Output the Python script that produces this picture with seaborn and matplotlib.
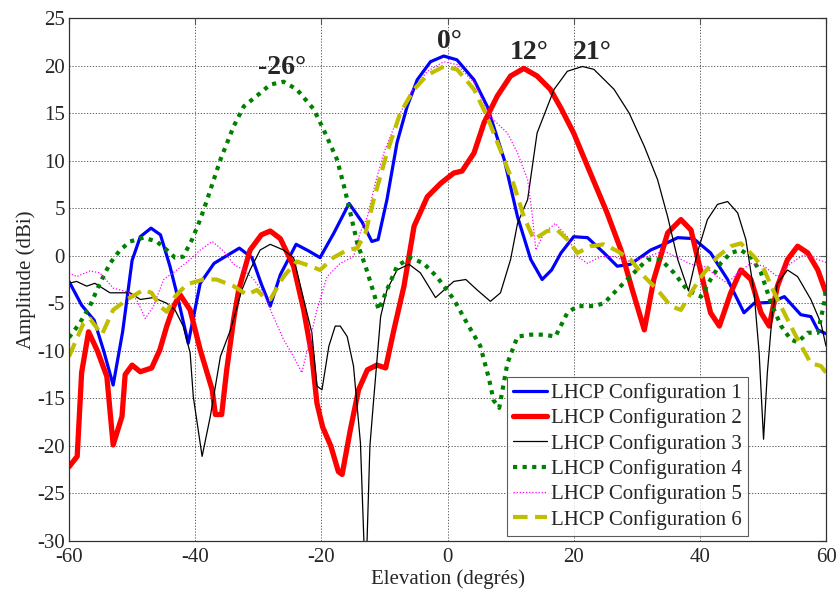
import numpy as np
import pandas as pd
import matplotlib
matplotlib.use('Agg')
import matplotlib.pyplot as plt
import seaborn as sns

# ============================================================
# Data
# ============================================================
x1 = [-60, -58, -56, -54.5, -53, -51.5, -50, -48.7, -47, -45.5, -44, -42.9, -41.1, -39.2, -37,
      -35.5, -33, -31, -29.5, -28.1, -26.5, -24, -22, -20.2, -18, -15.6, -13.5, -12, -11, -9.6,
      -8, -6.4, -4.8, -2.7, -0.6, 1.5, 4.2, 6.3, 9, 11.1, 13.2, 15, 16.5, 18, 20,
      22.2, 24.8, 26.9, 29, 32.2, 34.3, 36.5, 39, 41.7, 44.4, 47, 48.6, 51.3, 53.4, 56,
      57.6, 58.7, 60]
y1 = [-2.7, -5.2, -6.8, -10, -13.6, -8, -0.5, 2, 2.9, 2.2, -1.1, -4, -9.2, -2.9, -0.8,
      -0.2, 0.8, -0.2, -3, -5.3, -2, 1.2, 0.5, -0.2, 2.4, 5.5, 3.5, 1.5, 1.7, 5.9,
      11.9, 15.7, 18.5, 20.4, 21, 20.6, 18.5, 15.7, 10.1, 4.1, -0.4, -2.5, -1.5, 0.3, 2,
      1.9, 0.3, -1.1, -0.9, 0.6, 1.2, 1.9, 1.8, 0.3, -2.5, -6, -5, -4.9, -4.3, -6.2,
      -6.4, -7.8, -8.2]

x2 = [-60, -58.7, -58, -56.9, -55.5, -54, -53, -51.6, -51.1, -50, -48.7, -46.9, -45.6, -44.5, -43.4,
      -42.4, -40.8, -39.2, -37.3, -36.8, -35.8, -35, -33.9, -33.1, -31.3, -29.5, -28.1, -26.5, -24.4, -22.8,
      -21.5, -20.7, -19.8, -18.5, -17.3, -16.7, -15.4, -14.1, -12.7, -11.2, -9.8, -8.5, -6.9, -5.3, -3.2,
      -1.1, 1, 2.3, 4.2, 5.8, 7.9, 10, 12.1, 14.2, 16.3, 18, 20, 22.2, 25.3, 27.5,
      29.3, 31.2, 32.7, 34.9, 37, 38.6, 40.2, 41.7, 43.1, 44.9, 46.5, 48.1, 49.7, 51, 52.3,
      53.9, 55.5, 57.1, 58.7, 60]
y2 = [-22.2, -21.1, -12.3, -8, -10, -12.7, -19.9, -16.9, -12.5, -11.5, -12.2, -11.8, -9.9, -7.4, -5.3,
      -4.1, -5.7, -9.9, -14.1, -16.7, -16.7, -12, -6.7, -3.6, 0.6, 2.2, 2.6, 1.8, -1.1, -5.7,
      -10.5, -15.5, -18, -20, -22.7, -23, -18.3, -14.1, -12, -11.5, -11.8, -7.8, -3.2, 3.1, 6.2,
      7.6, 8.7, 8.9, 10.8, 14, 16.8, 18.9, 19.7, 18.9, 17.5, 15.5, 12.9, 9.4, 4.5, 0.6,
      -3.6, -7.8, -2.5, 2.4, 3.8, 2.7, -1.8, -6, -7.4, -3.9, -1.5, -2.5, -6, -7.4, -3.2,
      -0.4, 1, 0.3, -1.5, -3.9]

x3 = [-60, -58.8, -57.2, -55.9, -53.5, -50.3, -48.7, -46.6, -44.5, -43.2, -41.9, -40.8, -40.3, -38.9, -37.6,
      -36, -34.4, -32.6, -31.3, -29.7, -28.1, -26, -24.4, -22.8, -21.5, -20.7, -19.9, -18.8, -17.8, -17,
      -15.9, -14.9, -13.8, -13.2, -12.8, -12.3, -11.7, -10.6, -9.6, -8, -6.1, -4.3, -1.9, 1, 2.9,
      4.7, 6.8, 8.4, 10, 11.1, 12.7, 14.2, 16.9, 19, 21.4, 23.2, 26.4, 28.8, 31.2, 33.3,
      34.9, 36.5, 38.2, 39.6, 41.2, 42.8, 44.4, 46, 47.3, 48.6, 49.4, 50.1, 50.7, 51.5, 52.3,
      53.9, 55.5, 57.6, 59.2, 60]
y3 = [-2.9, -2.7, -3.2, -2.9, -3.9, -3.9, -4.6, -4.4, -5, -5.7, -7.4, -10.2, -14.8, -21.1, -16.9,
      -10.6, -7.8, -3.6, -1.5, 0.6, 1.2, 0.6, -0.2, -4.6, -8.1, -13.7, -14.1, -9.5, -7.4, -7.4,
      -8.5, -11.6, -19.7, -31, -31, -20, -15.1, -6.4, -3.6, -1.5, -0.9, -1.8, -4.4, -2.7, -2.5,
      -3.6, -4.8, -3.9, -0.4, 3.4, 5.9, 12.9, 17.5, 19.4, 19.9, 19.6, 17.5, 15, 11.5, 8,
      4.1, -0.4, -3.7, 0.3, 3.8, 5.4, 5.7, 4.5, 1.7, -3.9, -10.2, -19.3, -12.3, -6, -2.9,
      -1.5, -2.2, -4.6, -7.1, -9.5]

x4 = [-60, -58.3, -56.7, -55.1, -53.5, -51.9, -50.3, -48.2, -46.1, -44.5, -43.2, -41.9, -40.5, -39.2, -38.1,
      -36, -33.9, -32.3, -29.7, -28.1, -26, -23.9, -21.2, -19.6, -17.5, -16.4, -15.4, -14.3, -13, -11.7,
      -10.9, -9.6, -8, -5.9, -3.8, -1.7, -0.1, 1, 3.1, 5.2, 6.6, 7.3, 8.2, 9.5, 11.1,
      13.2, 15.3, 17.1, 19, 20.6, 23.2, 24.8, 26.4, 28.5, 30.6, 31.7, 33.8, 35.9, 38, 40.2,
      41.7, 43.3, 44.9, 46.5, 48.1, 49.7, 51.3, 52.9, 54.4, 55.5, 57.1, 58.7, 59.7, 60]
y4 = [-8.6, -7.1, -5.3, -2.9, -0.8, 0.6, 1.5, 1.9, 1.5, 0.6, -0.2, -0.1, 1.7, 3.8, 5.9,
      10.1, 13.6, 15.7, 17.1, 18, 18.3, 17.5, 15.4, 13.2, 10.1, 7.3, 4.5, 1.3, -1.1, -3.9,
      -5.7, -3.6, -1.1, -0.2, -0.8, -2.2, -3.6, -4.6, -7.1, -9.5, -13, -15.2, -16, -11.3, -8.5,
      -8.3, -8.3, -8.5, -6, -5.3, -5.3, -5, -3.9, -2.5, -1.1, -0.4, -0.4, -1.8, -3.6, -4.3,
      -2.5, -0.8, 0.3, 0.6, -0.1, -1.8, -5, -7.4, -8.8, -9.1, -8.1, -8.1, -5, -3.6]

x5 = [-60, -58.8, -56.7, -55.1, -53, -50.8, -49.3, -47.9, -46.6, -45, -42.9, -40.8, -39.2, -37.3, -35.5,
      -33.9, -32.3, -30.7, -29.2, -27.6, -26, -24.4, -23.1, -21.8, -20.7, -19.1, -17, -14.9, -13.8, -12.7,
      -11.5, -10.1, -8, -5.9, -3.2, -0.6, 1.5, 4.2, 6.8, 9.5, 11.1, 12.7, 13.4, 14, 15.3,
      17.1, 19, 20.6, 22.2, 24.3, 26.4, 28.5, 31.7, 34.3, 36.5, 38.6, 40.7, 42.8, 44.4, 46,
      48.1, 50.2, 52.3, 54.4, 56.5, 58.7, 60]
y5 = [-1.8, -2.2, -1.6, -1.8, -3.4, -3.8, -4.6, -6.6, -5.3, -2.5, -1.5, -0.4, 0.6, 1.5, 0.5,
      -0.9, -1.5, -2.5, -3.9, -6.4, -8.8, -10.6, -12.3, -8.8, -5.7, -2.2, -0.8, -0.1, 2.5, 4.1,
      7.5, 10.8, 14.3, 17.1, 19.4, 20.4, 20.1, 18.2, 14.6, 12.9, 10.8, 8, 4.5, 0.6, 2.4,
      3.4, 2, -0.1, -0.8, -0.1, -0.1, -0.6, -0.1, 0.5, -0.2, -0.9, -1.1, -2.2, -2.9, -1.8,
      -0.8, -1.1, -2.2, -0.8, 0.1, -0.4, -0.7]

x6 = [-60, -57.7, -56.7, -54.8, -53, -50.8, -48.2, -46.9, -45.6, -44.5, -43.2, -41.3, -38.7, -36.6, -33.9,
      -31.8, -30.2, -29.2, -28.1, -26, -23.9, -21.7, -20.2, -18.1, -15.9, -14.3, -13, -11.7, -9.6, -7.5,
      -5.3, -3.2, -0.6, 1.5, 4.2, 6.3, 8.4, 10.6, 12.1, 13.7, 15.8, 17.4, 19, 20.6, 22.7,
      24.8, 26.9, 29, 31.2, 33.3, 35.4, 37, 38.6, 40.2, 42.8, 44.9, 46.5, 48.6, 50.2, 51.8,
      53.9, 55.5, 57.6, 59.2, 60]
y6 = [-10.6, -7.1, -6.6, -8.3, -5.7, -4.6, -3.6, -3.9, -5.3, -5.9, -4.3, -3, -2.5, -2.5, -3.2,
      -4.1, -3.6, -4.3, -4.6, -2.2, -0.6, -1.1, -1.5, -0.2, 0.6, 0.8, 2.4, 5.9, 10.8, 15,
      17.5, 19, 19.9, 19.6, 17.5, 14.6, 11.1, 7.3, 4.1, 1.7, 2.6, 2.7, 1.7, 0.3, 1,
      1.2, 0.5, -0.4, -2.2, -3.6, -5.3, -5.7, -3.9, -2.2, -0.1, 1, 1.3, -0.1, -1.5, -3.9,
      -6.7, -8.8, -11.3, -11.6, -12.3]

labels = ['LHCP Configuration %d' % i for i in range(1, 7)]
peak_labels = ['-26°', '0°', '12°', '21°']
peak_x = [-26.3, 0.3, 12.9, 23]
peak_y = [19.8, 22.5, 21.4, 21.4]

# ============================================================
# Figure
# ============================================================
sns.set_style('white')
plt.rcParams['font.family'] = ['Liberation Serif', 'DejaVu Serif']
plt.rcParams['axes.unicode_minus'] = False

fig, ax = plt.subplots(figsize=(8.38, 5.9), dpi=100)
fig.subplots_adjust(left=69/838, right=826/838, top=1-18/590, bottom=1-541/590)

styles = [
    dict(color='#0000FF', linewidth=2.3, linestyle='-'),
    dict(color='#FF0000', linewidth=3.8, linestyle='-'),
    dict(color='black', linewidth=0.9, linestyle='-'),
    dict(color='#008000', linewidth=3.0, linestyle=(0, (1, 1.3))),
    dict(color='#FF00FF', linewidth=0.9, linestyle=(0, (1, 1.5))),
    dict(color='#BFBF00', linewidth=3.0, linestyle=(0, (3.5, 1.8))),
]
series = [(x1, y1), (x2, y2), (x3, y3), (x4, y4), (x5, y5), (x6, y6)]

for (xs, ys), lab, st in zip(series, labels, styles):
    df = pd.DataFrame({'x': xs, 'y': ys})
    sns.lineplot(data=df, x='x', y='y', ax=ax, sort=False, estimator=None,
                 label=lab, **st)

for t, px, py in zip(peak_labels, peak_x, peak_y):
    ax.text(px, py, t, ha='center', va='center', fontsize=20, fontweight='bold')

ax.set_xlim(-60, 60)
ax.set_ylim(-30, 25)
ax.set_xticks(np.arange(-60, 61, 20))
ax.set_yticks(np.arange(-30, 26, 5))
ax.grid(True, linestyle=(0, (1.5, 2)), color='#444444', linewidth=0.6)
ax.tick_params(direction='in', top=True, right=True, labelsize=15, length=4,
               color='#555555', pad=3)
ax.tick_params(axis='x', pad=5)
for s in ax.spines.values():
    s.set_color('#333333')
    s.set_linewidth(0.9)
ax.set_xlabel('Elevation (degrés)', fontsize=15, labelpad=2)
ax.set_ylabel('Amplitude (dBi)', fontsize=15, labelpad=1)

leg = ax.legend(loc='lower right', bbox_to_anchor=((748-69)/757, 5/523), borderaxespad=0,
                fontsize=15, frameon=True, fancybox=False, edgecolor='#333333',
                handlelength=1.6, labelspacing=0.26, borderpad=0.3, handletextpad=0.2)
leg.get_frame().set_linewidth(0.8)

plt.savefig('out.png', dpi=100)
plt.close()
